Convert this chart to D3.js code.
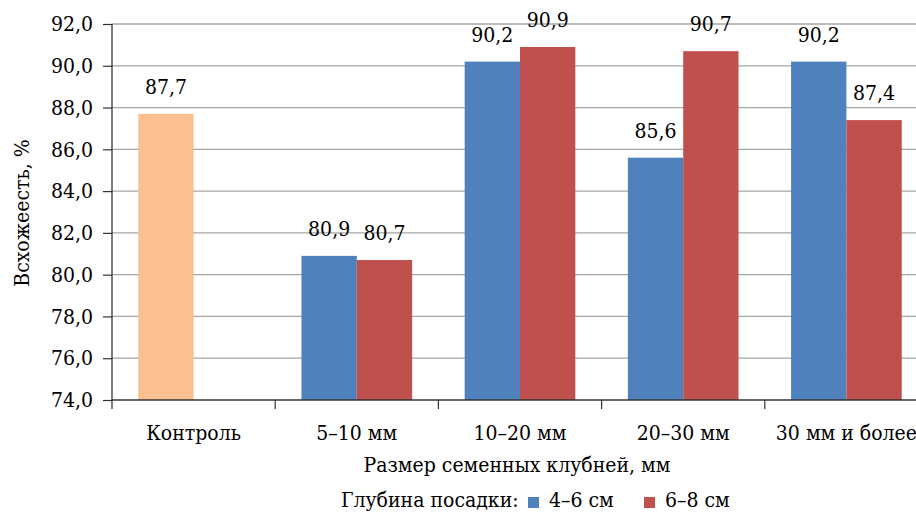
<!DOCTYPE html>
<html><head><meta charset="utf-8">
<script src="https://cdn.jsdelivr.net/npm/d3@7"></script>
<style>body{margin:0;background:#fff}svg{display:block}</style>
</head><body><div id="c"></div>
<script>
const categories = ["Контроль", "5–10 мм", "10–20 мм", "20–30 мм", "30 мм и более"];
const seriesNames = ["4–6 см", "6–8 см"];
const depth46 = [87.7, 80.9, 90.2, 85.6, 90.2];
const depth68 = [null, 80.7, 90.9, 90.7, 87.4];
const yTicks = [74, 76, 78, 80, 82, 84, 86, 88, 90, 92];
const yTitle = "Всхожеесть, %";
const xTitle = "Размер семенных клубней, мм";
const legendTitle = "Глубина посадки:";

const W = 916, H = 513;
const colors = ["#4F81BD", "#C0504D"];
const controlColor = "#FAC090";
const fs = 21;
const FF = '"DejaVu Serif Condensed", "DejaVu Serif"';

const svg = d3.select("#c").append("svg").attr("width", W).attr("height", H);
const x0 = 112, yTop = 24, yBot = 400;
const x = d3.scaleBand().domain(categories).range([x0, x0 + 5 * 163.2]).padding(0);
const y = d3.scaleLinear().domain([74, 92]).range([yBot, yTop]);
const bw = x.bandwidth();
const barW = bw * 0.339;
const inner = d3.scaleBand().domain([0, 1]).range([(bw - 2 * barW) / 2, (bw + 2 * barW) / 2]).padding(0);

svg.append("g").selectAll("line").data(yTicks.slice(1)).join("line")
  .attr("x1", x0).attr("x2", W).attr("y1", d => y(d)).attr("y2", d => y(d))
  .attr("stroke", "#A6A6A6").attr("stroke-width", 1.3);

const fmt = v => v.toFixed(1).replace(".", ",");
const txt = s => s.attr("font-size", fs).attr("fill", "#000").style("font-family", FF).style("font-stretch", "condensed");

const yAxis = d3.axisLeft(y).tickValues(yTicks).tickSize(9).tickPadding(10).tickFormat(fmt);
const gy = svg.append("g").attr("transform", `translate(${x0},0)`).call(yAxis);
gy.select(".domain").remove();
gy.selectAll(".tick line").attr("stroke", "#333").attr("stroke-width", 1.2);
gy.selectAll(".tick text").call(txt);
svg.append("line").attr("x1", x0).attr("x2", x0).attr("y1", yTop).attr("y2", yBot + 9)
  .attr("stroke", "#333").attr("stroke-width", 1.3);

const rows = [];
categories.forEach((c, i) => {
  [depth46[i], depth68[i]].forEach((v, s) => {
    if (v != null) rows.push({c, s, v, col: (i === 0 ? controlColor : colors[s])});
  });
});
svg.append("g").selectAll("rect").data(rows).join("rect")
  .attr("x", d => x(d.c) + inner(d.s)).attr("width", inner.bandwidth())
  .attr("y", d => y(d.v)).attr("height", d => yBot - y(d.v))
  .attr("fill", d => d.col);

svg.append("g").selectAll("text").data(rows).join("text")
  .attr("x", d => x(d.c) + inner(d.s) + inner.bandwidth() / 2)
  .attr("y", d => y(d.v) - 20)
  .attr("text-anchor", "middle").call(txt)
  .text(d => fmt(d.v));

svg.append("line").attr("x1", x0).attr("x2", W).attr("y1", yBot).attr("y2", yBot)
  .attr("stroke", "#333").attr("stroke-width", 1.3);
const bounds = categories.map(c => x(c)).concat([x0 + 5 * 163.2]);
svg.append("g").selectAll("line").data(bounds.slice(1)).join("line")
  .attr("x1", d => d).attr("x2", d => d).attr("y1", yBot).attr("y2", yBot + 9)
  .attr("stroke", "#333").attr("stroke-width", 1.2);
svg.append("g").selectAll("text").data(categories).join("text")
  .attr("x", d => x(d) + bw / 2).attr("y", 440)
  .attr("text-anchor", "middle").call(txt).text(d => d);

svg.append("text").attr("transform", "translate(29,213) rotate(-90)")
  .attr("text-anchor", "middle").call(txt).text(yTitle);
svg.append("text").attr("x", 517).attr("y", 472)
  .attr("text-anchor", "middle").call(txt).text(xTitle);

const lg = svg.append("g");
lg.append("text").attr("x", 341).attr("y", 507).call(txt).text(legendTitle);
const lx = [528, 644];
seriesNames.forEach((n, i) => {
  lg.append("rect").attr("x", lx[i]).attr("y", 497).attr("width", 11).attr("height", 11).attr("fill", colors[i]);
  lg.append("text").attr("x", lx[i] + 21).attr("y", 507).call(txt).text(n);
});
</script></body></html>
